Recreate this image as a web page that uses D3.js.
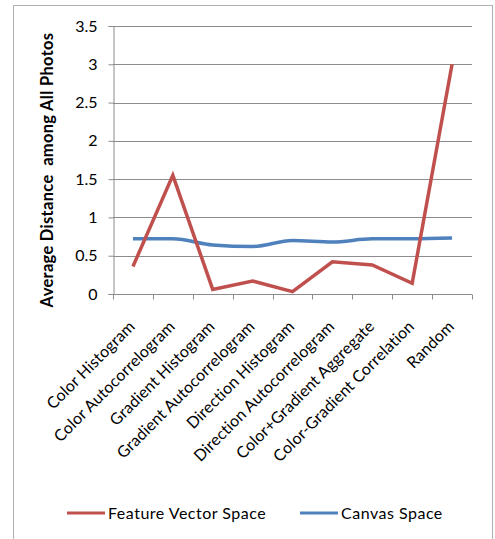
<!DOCTYPE html>
<html>
<head>
<meta charset="utf-8">
<script src="https://cdn.jsdelivr.net/npm/d3@7"></script>
<style>
  body { margin: 0; background: #fff; }
  text { font-family: Lato, "Open Sans", sans-serif; fill: #000; }
</style>
</head>
<body>
<div id="chart"></div>
<script>
// categories along the x axis
const categories = [
  "Color Histogram", "Color Autocorrelogram", "Gradient Histogram",
  "Gradient Autocorrelogram", "Direction Histogram", "Direction Autocorrelogram",
  "Color+Gradient Aggregate", "Color-Gradient Correlation", "Random"
];
const featureVector = [0.36, 1.55, 0.06, 0.17, 0.03, 0.42, 0.38, 0.14, 3.0];
const canvasSpace   = [0.72, 0.72, 0.64, 0.62, 0.70, 0.68, 0.72, 0.72, 0.73];
const yTicks = [0, 0.5, 1, 1.5, 2, 2.5, 3, 3.5];
const seriesNames = ["Feature Vector Space", "Canvas Space"];
const seriesColors = ["#C0504D", "#4F81BD"];

const W = 495, H = 539;
const margin = {top: 26, right: 23, bottom: 245, left: 113};
const width = W - margin.left - margin.right;
const height = H - margin.top - margin.bottom;

const svg = d3.select("#chart").append("svg")
  .attr("width", W).attr("height", H);

// chart border
svg.append("rect")
  .attr("x", 13.5).attr("y", 5.5)
  .attr("width", 479).attr("height", 540)
  .attr("fill", "none").attr("stroke", "#b0b0b0");

const g = svg.append("g")
  .attr("transform", "translate(" + margin.left + "," + margin.top + ")");

const x = d3.scaleBand().domain(categories).range([0, width]);
const y = d3.scaleLinear().domain([0, 3.5]).range([height, 0]);

// gridlines
g.selectAll(".grid")
  .data(yTicks.slice(1))
  .enter().append("line")
    .attr("x1", 0).attr("x2", width)
    .attr("y1", d => Math.round(y(d)) + 0.5)
    .attr("y2", d => Math.round(y(d)) + 0.5)
    .attr("stroke", "#8c8c8c");

// y axis
const yAxis = g.append("g")
  .attr("transform", "translate(0.5,0)")
  .call(d3.axisLeft(y).tickValues(yTicks).tickSize(5).tickPadding(11)
    .tickFormat(d3.format("")));
yAxis.select(".domain").attr("stroke", "#8c8c8c");
yAxis.selectAll(".tick line").attr("stroke", "#8c8c8c");
yAxis.selectAll(".tick text")
  .style("font-size", "16px").attr("fill", "#000");

// x axis: tick marks at category boundaries
const xAxis = g.append("g")
  .attr("transform", "translate(0," + (Math.round(height) + 0.5) + ")");
xAxis.append("line")
  .attr("x1", 0).attr("x2", width)
  .attr("stroke", "#8c8c8c");
xAxis.selectAll(".bnd")
  .data(d3.range(categories.length + 1))
  .enter().append("line")
    .attr("x1", i => Math.round(i * x.step()) + 0.5)
    .attr("x2", i => Math.round(i * x.step()) + 0.5)
    .attr("y1", 0).attr("y2", 5)
    .attr("stroke", "#8c8c8c");

xAxis.selectAll(".lbl")
  .data(categories)
  .enter().append("text")
    .attr("transform", d => "translate(" + (x(d) + x.bandwidth() / 2 + 3) + ",33) rotate(-45)")
    .attr("text-anchor", "end")
    .style("font-size", "16px")
    .style("letter-spacing", "0.15px")
    .text(d => d);

// y title
svg.append("text")
  .attr("transform", "translate(53," + (margin.top + 144) + ") rotate(-90)")
  .attr("text-anchor", "middle")
  .style("font-size", "16.5px")
  .style("font-weight", "bold")
  .style("letter-spacing", "0.3px")
  .attr("xml:space", "preserve")
  .text("Average Distance  among All Photos");

// lines
const cx = d => x(d) + x.bandwidth() / 2;
const redLine = d3.line()
  .x((v, i) => cx(categories[i]))
  .y(v => y(v));
const blueLine = d3.line()
  .x((v, i) => cx(categories[i]))
  .y(v => y(v))
  .curve(d3.curveMonotoneX);

g.append("path")
  .attr("d", blueLine(canvasSpace))
  .attr("fill", "none").attr("stroke", seriesColors[1])
  .attr("stroke-width", 3.5);
g.append("path")
  .attr("d", redLine(featureVector))
  .attr("fill", "none").attr("stroke", seriesColors[0])
  .attr("stroke-width", 3.5).attr("stroke-linejoin", "miter");

// legend
const legendX = [67, 300];
const legend = svg.selectAll(".leg")
  .data(seriesNames)
  .enter().append("g")
    .attr("transform", (d, i) => "translate(" + legendX[i] + ",513)");
legend.append("line")
  .attr("x1", 0).attr("x2", 38)
  .attr("stroke", (d, i) => seriesColors[i])
  .attr("stroke-width", 3);
legend.append("text")
  .attr("x", 41).attr("y", 5.5)
  .style("font-size", "16px")
  .style("letter-spacing", "0.5px")
  .text(d => d);
</script>
</body>
</html>
